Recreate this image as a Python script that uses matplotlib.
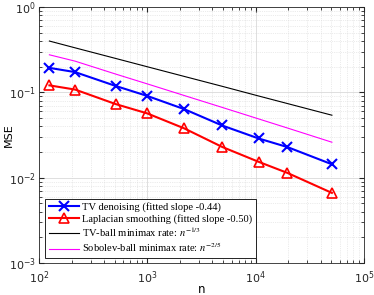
import matplotlib
matplotlib.use("Agg")
import matplotlib.pyplot as plt
from matplotlib.ticker import LogLocator, NullFormatter

n = [125, 216, 512, 1000, 2197, 4913, 10648, 19683, 50653]
tv_mse = [0.194, 0.173, 0.119, 0.091, 0.0637, 0.041, 0.0289, 0.0229, 0.0144]
lap_mse = [0.121, 0.108, 0.073, 0.0568, 0.0379, 0.023, 0.0154, 0.0114, 0.00665]
tv_rate = [0.400, 0.333, 0.250, 0.200, 0.154, 0.118, 0.0909, 0.0741, 0.0541]
sob_rate = [0.276, 0.2325, 0.164, 0.126, 0.092, 0.0668, 0.049, 0.0383, 0.0261]

plt.rcParams['mathtext.fontset'] = 'stix'
fig = plt.figure(figsize=(3.74, 2.95), dpi=100)
ax = fig.add_axes([0.104, 0.108, 0.869, 0.868])

ax.plot(n, tv_mse, color='blue', lw=1.5, marker='x', ms=7, mew=1.5,
        label='TV denoising (fitted slope -0.44)')
ax.plot(n, lap_mse, color='red', lw=1.5, marker='^', ms=7, mew=1.2, mfc='none',
        label='Laplacian smoothing (fitted slope -0.50)')
ax.plot(n, tv_rate, color='black', lw=0.8, label=r'TV-ball minimax rate: $n^{-1/3}$')
ax.plot(n, sob_rate, color='magenta', lw=0.8, label=r'Sobolev-ball minimax rate: $n^{-2/5}$')

ax.set_xscale('log')
ax.set_yscale('log')
ax.set_xlim(1e2, 1e5)
ax.set_ylim(1e-3, 1e0)
ax.xaxis.set_minor_locator(LogLocator(base=10, subs=range(2, 10)))
ax.yaxis.set_minor_locator(LogLocator(base=10, subs=range(2, 10)))
ax.xaxis.set_minor_formatter(NullFormatter())
ax.yaxis.set_minor_formatter(NullFormatter())
ax.grid(True, which='major', color='#d9d9d9', lw=0.6)
ax.grid(True, which='minor', color='#d9d9d9', lw=0.5, ls=':')
ax.set_axisbelow(True)
ax.tick_params(which='both', direction='in', top=True, right=True, labelsize=8, colors='#262626')
ax.tick_params(axis='x', pad=4.5)
ax.tick_params(axis='y', pad=2)
ax.tick_params(which='major', length=3.5)
ax.tick_params(which='minor', length=2)
for s in ax.spines.values():
    s.set_color('#262626')
    s.set_linewidth(0.6)
ax.set_xlabel('n', fontsize=8.5, labelpad=-2.5)
ax.set_ylabel('MSE', fontsize=8)
ax.yaxis.set_label_coords(-0.078, 0.5)

leg = ax.legend(loc='lower left', bbox_to_anchor=(0.02, 0.022),
                prop={'family': 'Liberation Serif', 'size': 7.6},
                fancybox=False, framealpha=1, edgecolor='black', handlelength=2.9,
                borderpad=0.3, labelspacing=0.15, handletextpad=0.3, borderaxespad=0)
leg.get_frame().set_linewidth(0.6)

fig.savefig('out.png', dpi=100)
